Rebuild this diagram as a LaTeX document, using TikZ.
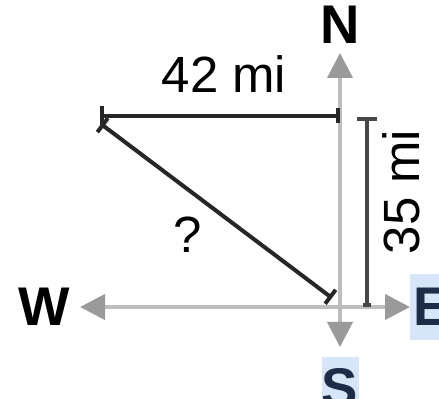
\documentclass[tikz,border=0pt]{standalone}
\usepackage{fontspec}
\setmainfont{Liberation Sans}
\usepackage{xcolor}
\usepackage{tikz}
\definecolor{axisgray}{HTML}{BDBDBD}
\definecolor{tipgray}{HTML}{9A9A9A}
\definecolor{highlight}{HTML}{D6E6F8}
\definecolor{navy}{HTML}{1E2C48}
\usetikzlibrary{arrows.meta, positioning, calc}

\tikzset{
    axis/.style={draw=axisgray, line width=0.8mm, -{Triangle[length=5mm, width=5mm, color=tipgray]}},
    compass/.style={font=\fontsize{31}{31}\selectfont\bfseries, inner sep=0pt},
    dist/.style={font=\fontsize{29}{29}\selectfont, inner sep=0pt}
}

\begin{document}
\begin{tikzpicture}
    \useasboundingbox (0,0) rectangle (8.78,7.98);

    % Axes
    \coordinate (origin) at (6.8,1.84);
    \coordinate (ntip) at (6.8,6.92);
    \coordinate (stip) at (6.8,1.04);
    \coordinate (wtip) at (1.6,1.84);
    \coordinate (etip) at (8.2,1.84);
    \draw[axis] (origin) -- (ntip);
    \draw[axis] (origin) -- (stip);
    \draw[axis] (origin) -- (wtip);
    \draw[axis] (origin) -- (etip);

    % Compass labels
    \node[compass] (north) at (6.8,7.48) {N};
    \node[compass, left=0.2cm of wtip] (west) {W};
    \node[compass, fill=highlight, text=navy, anchor=west, minimum height=1.32cm, inner xsep=0.06cm] (east) at (etip) {E};
    \node[compass, fill=highlight, text=navy, anchor=north, minimum width=0.74cm, minimum height=1.2cm, text depth=0pt] (south) at (6.8,0.84) {S};

    % Legs of the trip
    \coordinate (start) at (2.0,5.66);
    \coordinate (corner) at (6.8,5.66);
    \draw[line width=0.8mm, color=black!85, {Bar[width=4mm]}-{Bar[width=3mm]}] (start) -- (corner);
    \node[dist] (west dist) at (4.48,6.5) {42 mi};

    \coordinate (top) at (7.34,5.64);
    \coordinate (bottom) at (7.34,1.84);
    \draw[line width=0.8mm, color=black!72, {Bar[width=4mm]}-{Bar[width=1.5mm]}] (top) -- (bottom);
    \node[dist, rotate=90] (north dist) at (8.02,4.14) {35 mi};

    % Unknown distance
    \coordinate (diagstart) at (2.02,5.5);
    \coordinate (diagend) at (6.64,2.02);
    \draw[line width=0.8mm, color=black!85, {Bar[width=3.5mm]}-{Bar[width=3.5mm]}] (diagstart) -- (diagend);
    \node[dist] (unknown) at (3.76,3.28) {?};
\end{tikzpicture}
\end{document}
